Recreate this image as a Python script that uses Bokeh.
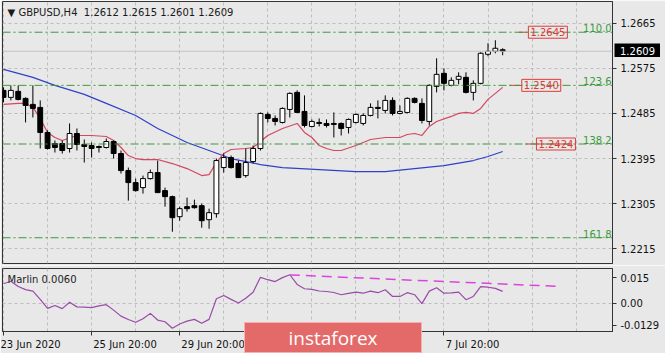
from bokeh.plotting import figure
from bokeh.models import Range1d, FixedTicker, Span, Label, GridBox, AllLabels, Div
from bokeh.core.properties import value
from bokeh.embed import file_html
from bokeh.resources import INLINE

# ---------------- data ----------------
bars = list(range(69))
opens = [1.2531, 1.2517, 1.2529, 1.2515, 1.2503, 1.2497, 1.2447, 1.2425, 1.2425, 1.2415,
         1.2445, 1.2423, 1.2421, 1.2419, 1.2417, 1.2429, 1.2405, 1.2371, 1.2347, 1.2337,
         1.2355, 1.2367, 1.2331, 1.2319, 1.2279, 1.2299, 1.2301, 1.2301, 1.2273, 1.2285,
         1.2377, 1.2397, 1.2385, 1.2361, 1.2389, 1.2415, 1.2483, 1.2475, 1.2467, 1.2493,
         1.2527, 1.2489, 1.2459, 1.2467, 1.2465, 1.2465, 1.2465, 1.2457, 1.2467, 1.2465,
         1.2481, 1.2497, 1.2491, 1.2511, 1.2485, 1.2487, 1.2515, 1.2505, 1.2469, 1.2539,
         1.2565, 1.2541, 1.2553, 1.2557, 1.2527, 1.2545, 1.2603, 1.2609, 1.2612]
highs = [1.2537, 1.2541, 1.2541, 1.2517, 1.2541, 1.2511, 1.2451, 1.2431, 1.2431, 1.2465,
         1.2455, 1.2433, 1.2427, 1.2421, 1.2435, 1.2431, 1.2411, 1.2377, 1.2355, 1.2361,
         1.2373, 1.2391, 1.2337, 1.2321, 1.2299, 1.2317, 1.2313, 1.2305, 1.2295, 1.2395,
         1.2405, 1.2401, 1.2391, 1.2415, 1.2421, 1.2487, 1.2487, 1.2481, 1.2497, 1.2527,
         1.2531, 1.2521, 1.2473, 1.2475, 1.2473, 1.2487, 1.2467, 1.2475, 1.2485, 1.2485,
         1.2505, 1.2511, 1.2521, 1.2517, 1.2501, 1.2517, 1.2517, 1.2515, 1.2543, 1.2595,
         1.2575, 1.2557, 1.2567, 1.2567, 1.2551, 1.2607, 1.2625, 1.2631, 1.2615]
lows = [1.2507, 1.2511, 1.2511, 1.2467, 1.2477, 1.2415, 1.2413, 1.2407, 1.2405, 1.2407,
        1.2411, 1.2387, 1.2397, 1.2407, 1.2415, 1.2395, 1.2365, 1.2311, 1.2329, 1.2325,
        1.2353, 1.2327, 1.2299, 1.2249, 1.2271, 1.2289, 1.2295, 1.2257, 1.2255, 1.2277,
        1.2367, 1.2375, 1.2357, 1.2357, 1.2385, 1.2411, 1.2467, 1.2461, 1.2465, 1.2477,
        1.2487, 1.2457, 1.2457, 1.2459, 1.2457, 1.2437, 1.2441, 1.2445, 1.2465, 1.2461,
        1.2479, 1.2475, 1.2485, 1.2481, 1.2483, 1.2485, 1.2505, 1.2465, 1.2461, 1.2527,
        1.2531, 1.2539, 1.2543, 1.2525, 1.2511, 1.2543, 1.2599, 1.2605, 1.2601]
closes = [1.2517, 1.2531, 1.2513, 1.2501, 1.2495, 1.2447, 1.2415, 1.2417, 1.2411, 1.2445,
          1.2423, 1.2419, 1.2415, 1.2417, 1.2429, 1.2405, 1.2371, 1.2347, 1.2331, 1.2355,
          1.2367, 1.2327, 1.2319, 1.2277, 1.2295, 1.2295, 1.2297, 1.2271, 1.2287, 1.2391,
          1.2397, 1.2377, 1.2357, 1.2387, 1.2415, 1.2485, 1.2475, 1.2469, 1.2495, 1.2525,
          1.2487, 1.2461, 1.2469, 1.2465, 1.2461, 1.2463, 1.2455, 1.2473, 1.2483, 1.2481,
          1.2497, 1.2495, 1.2511, 1.2485, 1.2489, 1.2515, 1.2507, 1.2471, 1.2541, 1.2563,
          1.2545, 1.2551, 1.2559, 1.2527, 1.2545, 1.2605, 1.2609, 1.2615, 1.2609]

ma_fast_bar = [0, 2, 3, 4, 5, 6, 7, 8, 10, 12, 14, 15, 16, 17, 18, 19, 21, 23, 25, 27, 28, 29,
               30, 31, 33, 34, 35, 36, 38, 40, 41, 42, 43, 44, 45, 46, 48, 49, 50, 52, 54, 55,
               56, 57, 58, 59, 61, 62, 63, 64, 65, 66, 67, 68]
ma_fast_val = [1.2503, 1.2505, 1.2505, 1.2497, 1.2475, 1.2447, 1.2437, 1.2431, 1.2441, 1.2441,
               1.2439, 1.2431, 1.2417, 1.2401, 1.2395, 1.2393, 1.2393, 1.2385, 1.2375, 1.2361,
               1.2363, 1.2387, 1.2405, 1.2413, 1.2415, 1.2417, 1.2429, 1.2441, 1.2455, 1.2465,
               1.2447, 1.2437, 1.2421, 1.2415, 1.2411, 1.2411, 1.2421, 1.2427, 1.2433, 1.2437,
               1.2437, 1.2443, 1.2445, 1.2441, 1.2459, 1.2469, 1.2479, 1.2485, 1.2487, 1.2485,
               1.2495, 1.2513, 1.2525, 1.2537]

ma_slow_bar = [0, 4, 7, 11, 14, 18, 21, 25, 28, 31, 35, 38, 43, 48, 52, 56, 60, 64, 66, 68]
ma_slow_val = [1.2573, 1.2557, 1.2541, 1.2523, 1.2505, 1.2481, 1.2455, 1.2427, 1.2411, 1.2395,
               1.2383, 1.2377, 1.2373, 1.2369, 1.2369, 1.2375, 1.2381, 1.2391, 1.2399, 1.2409]

marlin = [0.0114, 0.0129, 0.0098, 0.0080, 0.0071, 0.0023, -0.0030, -0.0013, -0.0031, 0.0006,
          -0.0021, -0.0023, -0.0025, -0.0015, -0.0008, -0.0040, -0.0075, -0.0095, -0.0111, -0.0090,
          -0.0059, -0.0098, -0.0108, -0.0146, -0.0121, -0.0104, -0.0094, -0.0117, -0.0094, 0.0027,
          0.0046, 0.0023, 0.0002, 0.0029, 0.0065, 0.0152, 0.0138, 0.0127, 0.0150, 0.0167,
          0.0110, 0.0085, 0.0081, 0.0072, 0.0069, 0.0063, 0.0050, 0.0058, 0.0065, 0.0059,
          0.0071, 0.0062, 0.0079, 0.0040, 0.0040, 0.0062, 0.0050, -0.0002, 0.0071, 0.0091,
          0.0059, 0.0061, 0.0065, 0.0021, 0.0040, 0.0098, 0.0094, 0.0087, 0.0070]
marlin_trend_bar = [39, 76]
marlin_trend_val = [0.0166, 0.0098]

fib_levels = [1.2647, 1.2541, 1.2424, 1.2237]
fib_names = ["110.0", "123.6", "138.2", "161.8"]

price_labels = ["1.2645", "1.2540", "1.2424"]
price_label_lvl = [1.2647, 1.2541, 1.2424]
price_label_bar = [71.5, 70.6, 72.6]
price_line_from = [70.2, 68.9, 71.1]
price_line_to = [71.4, 70.4, 77.4]

price_ticks = [1.2215, 1.2305, 1.2395, 1.2485, 1.2575, 1.2665]
marlin_ticks = [-0.0129, 0.0, 0.015]
time_ticks = [0, 12, 24, 36, 48, 60]
time_labels = ["23 Jun 2020", "25 Jun 20:00", "29 Jun 20:00", "1 Jul 20:00", "3 Jul 20:00", "7 Jul 20:00"]

title_text = "\u25bc GBPUSD,H4\u00a0\u00a01.2612 1.2615 1.2601 1.2609"
last_price = 1.2609
indicator_text = "Marlin 0.0060"
logo_text = "instaforex"

# ---------------- style ----------------
BG = "#e8e8e8"
FONT = "DejaVu Sans"
GREEN = "#3a9a3a"
RED = "#e03a3a"
xr = Range1d(-0.14, 82.96)
grid_x = list(range(0, 90, 6))

# approximate DejaVu Sans advance widths (em): used to make centred axis labels start at their tick
CW = {"0": 0.636, "1": 0.636, "2": 0.636, "3": 0.636, "4": 0.636, "5": 0.636, "6": 0.636,
      "7": 0.636, "8": 0.636, "9": 0.636, " ": 0.318, ":": 0.337, "J": 0.295, "u": 0.634,
      "n": 0.634, "l": 0.278}


def starts_at_tick(s):
    w = sum(CW.get(ch, 0.6) for ch in s)
    return "\u00a0" * (int(round(w / 0.318)) + 1) + s


p1 = figure(width=665, height=265, x_range=xr, y_range=Range1d(1.21856, 1.27083),
            output_backend="svg", toolbar_location=None, x_axis_location=None,
            y_axis_location="right", min_border_left=2, min_border_right=53,
            min_border_top=1, min_border_bottom=2)
p2 = figure(width=665, height=88, x_range=xr, y_range=Range1d(-0.0165, 0.02035),
            output_backend="svg", toolbar_location=None, y_axis_location="right",
            min_border_left=2, min_border_right=53, min_border_top=3, min_border_bottom=22)

for p in (p1, p2):
    p.background_fill_color = BG
    p.border_fill_color = BG
    p.outline_line_color = "#333333"
    p.outline_line_width = 1
    p.xgrid.ticker = FixedTicker(ticks=grid_x)
    p.xgrid.grid_line_color = "#bdbdbd"
    p.xgrid.grid_line_dash = "3 3"
    p.ygrid.grid_line_color = "#bdbdbd"
    p.ygrid.grid_line_dash = "3 3"
    p.yaxis.axis_line_color = "#333333"
    p.yaxis.major_tick_line_color = "#333333"
    p.yaxis.major_tick_out = 4
    p.yaxis.major_tick_in = 0
    p.yaxis.minor_tick_line_color = None
    p.yaxis.major_label_text_font = FONT
    p.yaxis.major_label_text_font_size = "10px"
    p.yaxis.major_label_text_color = "#111111"
    p.yaxis.major_label_standoff = 4

p1.yaxis.ticker = FixedTicker(ticks=price_ticks)
p1.yaxis.major_label_overrides = {t: f"{t:.4f}" for t in price_ticks}

p2.yaxis.ticker = FixedTicker(ticks=marlin_ticks)
p2.yaxis.major_label_overrides = {-0.0129: "-0.0129", 0.0: "0.00", 0.015: "0.015"}
p2.ygrid.ticker = FixedTicker(ticks=[0.0])

x_overrides = {}
for i, (t, s) in enumerate(zip(time_ticks, time_labels)):
    # the first label is pushed inside the canvas by Bokeh already
    x_overrides[t] = s if i == 0 else starts_at_tick(s)
p2.xaxis.ticker = FixedTicker(ticks=time_ticks)
p2.xaxis.major_label_overrides = x_overrides
p2.xaxis.major_label_policy = AllLabels()
p2.xaxis.major_label_text_font = FONT
p2.xaxis.major_label_text_font_size = "10px"
p2.xaxis.major_label_text_color = "#111111"
p2.xaxis.major_label_standoff = 3
p2.xaxis.major_tick_out = 4
p2.xaxis.major_tick_in = 0
p2.xaxis.minor_tick_line_color = None
p2.xaxis.axis_line_color = "#333333"
p2.xaxis.major_tick_line_color = "#333333"

# ---------------- main panel ----------------
p1.add_layout(Span(location=last_price, dimension="width", line_color="#c4c4c4", line_width=1))
for lvl in fib_levels:
    p1.add_layout(Span(location=lvl, dimension="width", line_color=GREEN, line_width=1,
                       line_dash="8 3 2 3"))
for lvl, name in zip(fib_levels, fib_names):
    p1.add_layout(Label(x=82.85, y=lvl, text=name, text_align="right", text_baseline="bottom",
                        text_font=FONT, text_font_size="10px", text_color=GREEN))

p1.line(ma_slow_bar, ma_slow_val, line_color="#3040c8", line_width=1.2)
p1.line(ma_fast_bar, ma_fast_val, line_color="#d4475e", line_width=1.2)

p1.segment(x0=bars, x1=bars, y0=lows, y1=highs, line_color="#000000", line_width=1)
body_bottom = [min(o, c) for o, c in zip(opens, closes)]
body_top = [max(o, c) if abs(o - c) > 0.00005 else max(o, c) + 0.00005 for o, c in zip(opens, closes)]
body_color = ["#ffffff" if c > o else "#000000" for o, c in zip(opens, closes)]
p1.vbar(x=bars, bottom=body_bottom, top=body_top, width=0.66, fill_color=body_color,
        line_color="#000000", line_width=1)

p1.segment(x0=price_line_from, x1=price_line_to, y0=price_label_lvl, y1=price_label_lvl,
           line_color=RED, line_width=1)
for txt, lvl, b in zip(price_labels, price_label_lvl, price_label_bar):
    p1.add_layout(Label(x=b, y=lvl, text=txt, text_align="left", text_baseline="middle",
                        text_font=FONT, text_font_size="10px", text_color=RED,
                        border_line_color=RED, border_line_width=1, padding=2))

p1.add_layout(Label(x=0.55, y=1.26864, text=title_text, text_align="left", text_baseline="middle",
                    text_font=FONT, text_font_size="10px", text_color="#1a1a1a"))

# ---------------- Marlin panel ----------------
p2.line(bars, marlin, line_color="#9a4aa8", line_width=1.2)
p2.line(marlin_trend_bar, marlin_trend_val, line_color="#dd44dd", line_width=1.5, line_dash="10 6")
p2.add_layout(Label(x=0.55, y=0.0139, text=indicator_text, text_align="left", text_baseline="middle",
                    text_font=FONT, text_font_size="10px", text_color="#222222"))

# ---------------- current price tag (sits over the price scale) ----------------
tag = figure(width=46, height=14, x_range=Range1d(0, 1), y_range=Range1d(0, 1),
             output_backend="svg", toolbar_location=None, x_axis_location=None,
             y_axis_location=None, min_border=0, outline_line_color=None,
             background_fill_color="#000000", border_fill_color="#000000")
tag.grid.visible = False
tag.text(x=[0.5], y=[0.5], text=[f"{last_price:.4f}"], text_align="center", text_baseline="middle",
         text_font=value(FONT), text_font_size=value("10px"), text_color="#ffffff")

# ---------------- watermark logo ----------------
logo = Div(text=logo_text, width=178, height=31, margin=0,
           styles={"background-color": "#e46a6a", "color": "#ffffff", "font-family": "Open Sans",
                   "font-size": "19px", "line-height": "31px", "text-align": "center",
                   "box-sizing": "border-box", "border": "1px solid #f2b0b0",
                   "overflow": "hidden"})

layout = GridBox(children=[(p1, 0, 0, 3, 5), (p2, 3, 0, 2, 5), (tag, 1, 3, 1, 1), (logo, 4, 1, 1, 1)],
                 rows=["43px", "14px", "208px", "57px", "31px"],
                 cols=["244px", "178px", "192px", "46px", "5px"], spacing=0)
open("out.html", "w").write(file_html(layout, INLINE))
